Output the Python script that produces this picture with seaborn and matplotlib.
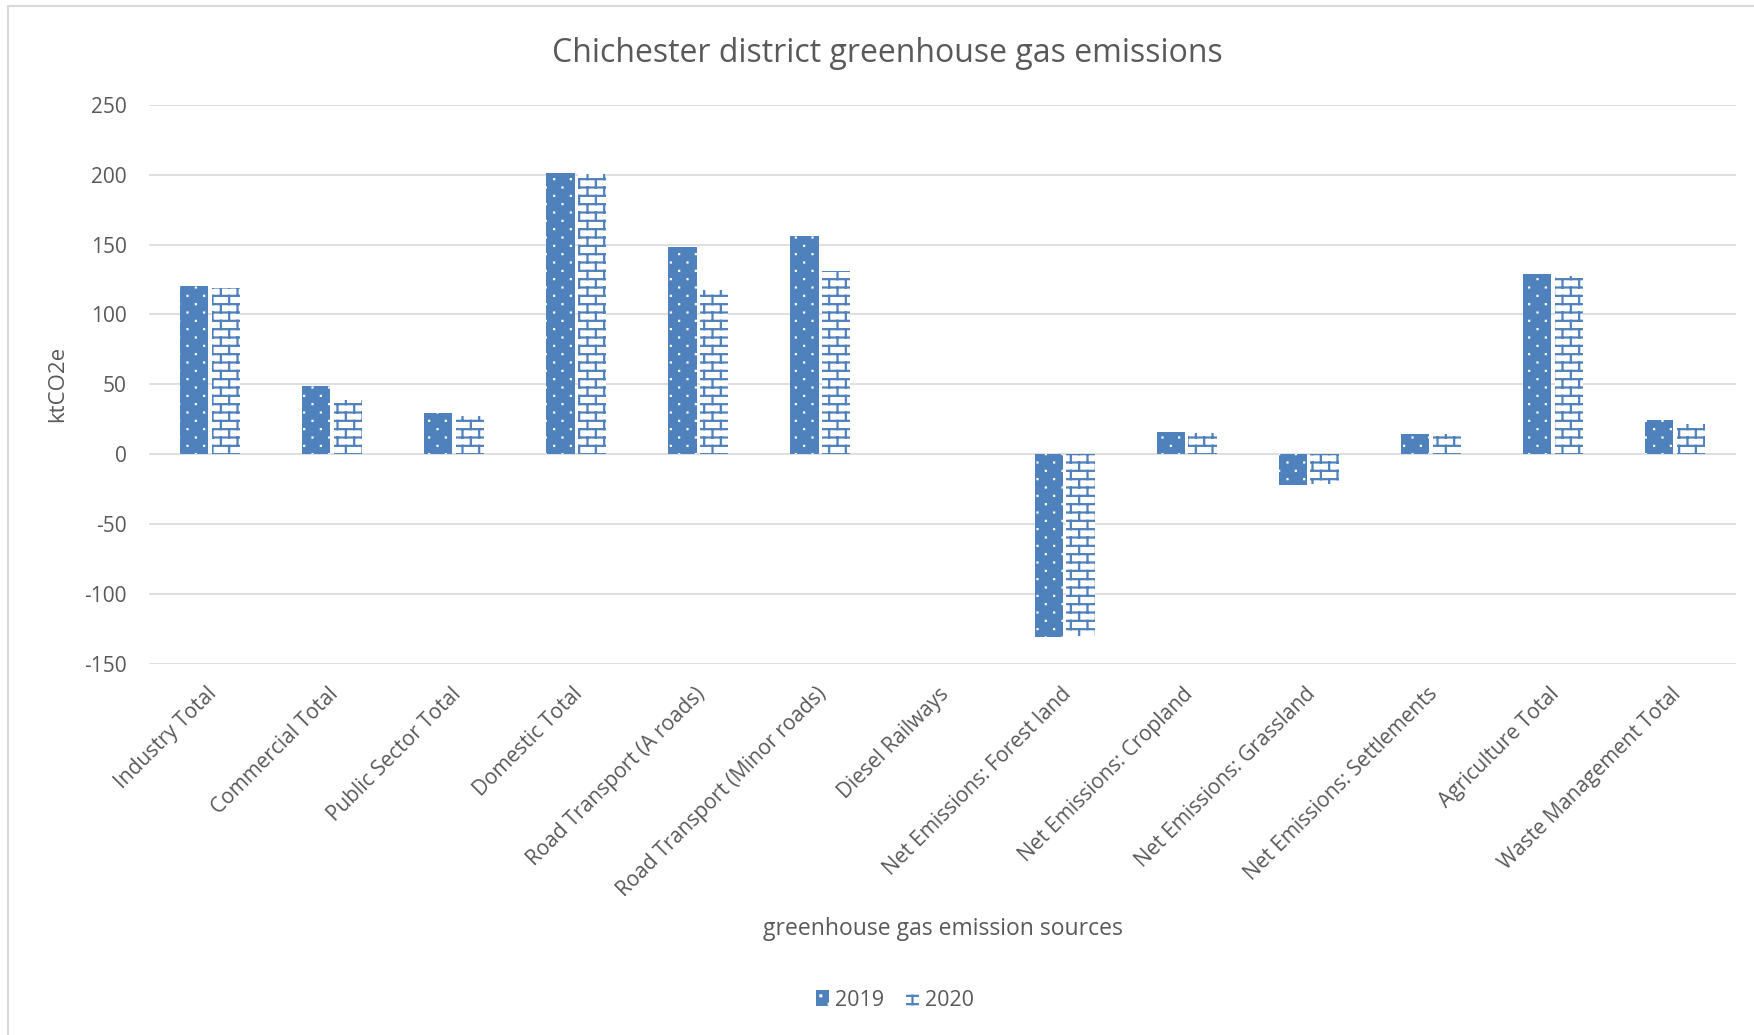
import numpy as np
import pandas as pd
import matplotlib
matplotlib.use("Agg")
import matplotlib.pyplot as plt
import matplotlib.transforms as mtransforms
import seaborn as sns
from matplotlib import hatch as mhatch
from matplotlib.path import Path
from matplotlib.patches import Patch
from matplotlib.lines import Line2D

# ---------------- data ----------------
categories = [
    "Industry Total", "Commercial Total", "Public Sector Total", "Domestic Total",
    "Road Transport (A roads)", "Road Transport (Minor roads)", "Diesel Railways",
    "Net Emissions: Forest land", "Net Emissions: Cropland", "Net Emissions: Grassland",
    "Net Emissions: Settlements", "Agriculture Total", "Waste Management Total",
]
values_2019 = [120.4, 49.0, 29.5, 201.0, 148.0, 156.4, 0.0, -130.5, 16.0, -22.0, 14.8, 128.8, 24.8]
values_2020 = [119.0, 38.6, 27.4, 200.5, 117.4, 130.8, 0.0, -130.0, 15.5, -21.5, 14.8, 127.2, 22.0]
series_names = ["2019", "2020"]
y_ticks = [-150, -100, -50, 0, 50, 100, 150, 200, 250]

title = "Chichester district greenhouse gas emissions"
x_title = "greenhouse gas emission sources"
y_title = "ktCO2e"

BLUE = "#4F81BD"
TEXT = "#595959"
GRID = "#D9D9D9"


# ---------------- custom Excel-like hatch patterns ----------------
class _Dots(mhatch.HatchPatternBase):
    """Staggered small dots (pattern character '.')."""
    def __init__(self, hatch, density):
        self.active = hatch.count('.') > 0
        R, C, s = 12, 6, 0.004
        verts = []
        if self.active:
            for r in range(R):
                y = (r + 0.5) / R
                off = 0.5 if r % 2 else 0.0
                for c in range(C):
                    x = (c + 0.25 + off) / C
                    verts += [(x - s, y - s), (x + s, y - s), (x + s, y + s), (x - s, y + s), (x - s, y - s)]
        self.verts = verts
        self.num_vertices = len(verts)

    def set_vertices_and_codes(self, vertices, codes):
        vertices[:] = np.array(self.verts)
        codes[0::5] = Path.MOVETO
        codes[1::5] = Path.LINETO
        codes[2::5] = Path.LINETO
        codes[3::5] = Path.LINETO
        codes[4::5] = Path.CLOSEPOLY


class _Bricks(mhatch.HatchPatternBase):
    """Brick pattern (pattern character '+')."""
    def __init__(self, hatch, density):
        self.active = hatch.count('+') > 0
        R, C = 12, 6
        segs = []
        if self.active:
            for r in range(R):
                y = (r + 0.5) / R
                segs.append(((0.0, y), (1.0, y)))
            for r in range(R):
                y0 = (r + 0.5) / R
                y1 = y0 + 1.0 / R
                off = 0.5 if r % 2 else 0.0
                for c in range(C):
                    x = (c + 0.25 + off) / C
                    if y1 <= 1.0:
                        segs.append(((x, y0), (x, y1)))
                    else:
                        segs.append(((x, y0), (x, 1.0)))
                        segs.append(((x, 0.0), (x, y1 - 1.0)))
        self.segs = segs
        self.num_vertices = 2 * len(segs)

    def set_vertices_and_codes(self, vertices, codes):
        pts = []
        for a, b in self.segs:
            pts += [a, b]
        vertices[:] = np.array(pts)
        codes[0::2] = Path.MOVETO
        codes[1::2] = Path.LINETO


mhatch._hatch_types = [_Dots, _Bricks]

# ---------------- plot ----------------
sns.set_theme(style="white")
plt.rcParams["font.family"] = ["Open Sans", "DejaVu Sans"]
plt.rcParams["hatch.linewidth"] = 1.6

df = pd.DataFrame({
    "category": categories * 2,
    "value": values_2019 + values_2020,
    "year": [series_names[0]] * len(categories) + [series_names[1]] * len(categories),
})

fig = plt.figure(figsize=(17.54, 10.35), dpi=100)
ax = fig.add_axes([149 / 1754, 1 - 664 / 1035, (1736 - 149) / 1754, (664 - 104.7) / 1035])

sns.barplot(data=df, x="category", y="value", hue="year", order=categories,
            hue_order=series_names, palette=[BLUE, BLUE], width=0.52, gap=0.11,
            legend=False, ax=ax, errorbar=None)

for bar in ax.containers[0]:
    bar.set_facecolor(BLUE)
    bar.set_edgecolor("white")
    bar.set_linewidth(0)
    bar.set_hatch(".")
    if hasattr(bar, "set_hatch_linewidth"):
        bar.set_hatch_linewidth(1.0)
for bar in ax.containers[1]:
    bar.set_facecolor("white")
    bar.set_edgecolor(BLUE)
    bar.set_linewidth(0)
    bar.set_hatch("+")
    if hasattr(bar, "set_hatch_linewidth"):
        bar.set_hatch_linewidth(1.6)

ax.set_ylim(-150, 250)
ax.set_xlim(-0.5, len(categories) - 0.5)
ax.set_yticks(y_ticks)
ax.set_yticklabels([str(t) for t in y_ticks])
ax.yaxis.grid(True, color=GRID, linewidth=1.2)
ax.set_axisbelow(True)
for s in ax.spines.values():
    s.set_visible(False)
ax.tick_params(axis="y", length=0, pad=16, labelsize=15, labelcolor=TEXT)
ax.tick_params(axis="x", length=0, pad=14, labelsize=15, labelcolor=TEXT)
ax.set_xticks(range(len(categories)))
ax.set_xticklabels(categories, rotation=45, ha="right", va="top", rotation_mode="anchor")
shift = mtransforms.ScaledTranslation(-4 / 100, 0, fig.dpi_scale_trans)
for lbl in ax.get_xticklabels():
    lbl.set_transform(lbl.get_transform() + shift)
ax.set_xlabel("")
ax.set_ylabel("")

fig.text(887 / 1754, 1 - 53 / 1035, title, ha="center", va="center", fontsize=23, color=TEXT)
fig.text(943 / 1754, 1 - 929 / 1035, x_title, ha="center", va="center", fontsize=16.5, color=TEXT)
fig.text(58 / 1754, 1 - 384 / 1035, y_title, ha="center", va="center", fontsize=16, color=TEXT,
         rotation=90)

handles = [
    Patch(facecolor=BLUE, edgecolor="white", hatch=".", linewidth=0),
    Patch(facecolor="white", edgecolor=BLUE, hatch="+", linewidth=0),
]
leg = fig.legend(handles, series_names, loc="center", bbox_to_anchor=(895 / 1754, 1 - 1000 / 1035),
                 ncol=2, frameon=False, fontsize=15.5, handlelength=0.6, handleheight=0.7,
                 handletextpad=0.3, columnspacing=1.0, labelcolor=TEXT)

# outer chart border (left and top edges visible in the crop)
fig.add_artist(Line2D([8 / 1754, 8 / 1754], [0, 1 - 6 / 1035], transform=fig.transFigure,
                      color=GRID, linewidth=1.5))
fig.add_artist(Line2D([8 / 1754, 1], [1 - 6 / 1035, 1 - 6 / 1035], transform=fig.transFigure,
                      color=GRID, linewidth=1.5))

fig.savefig("out.png", dpi=100, facecolor="white")
